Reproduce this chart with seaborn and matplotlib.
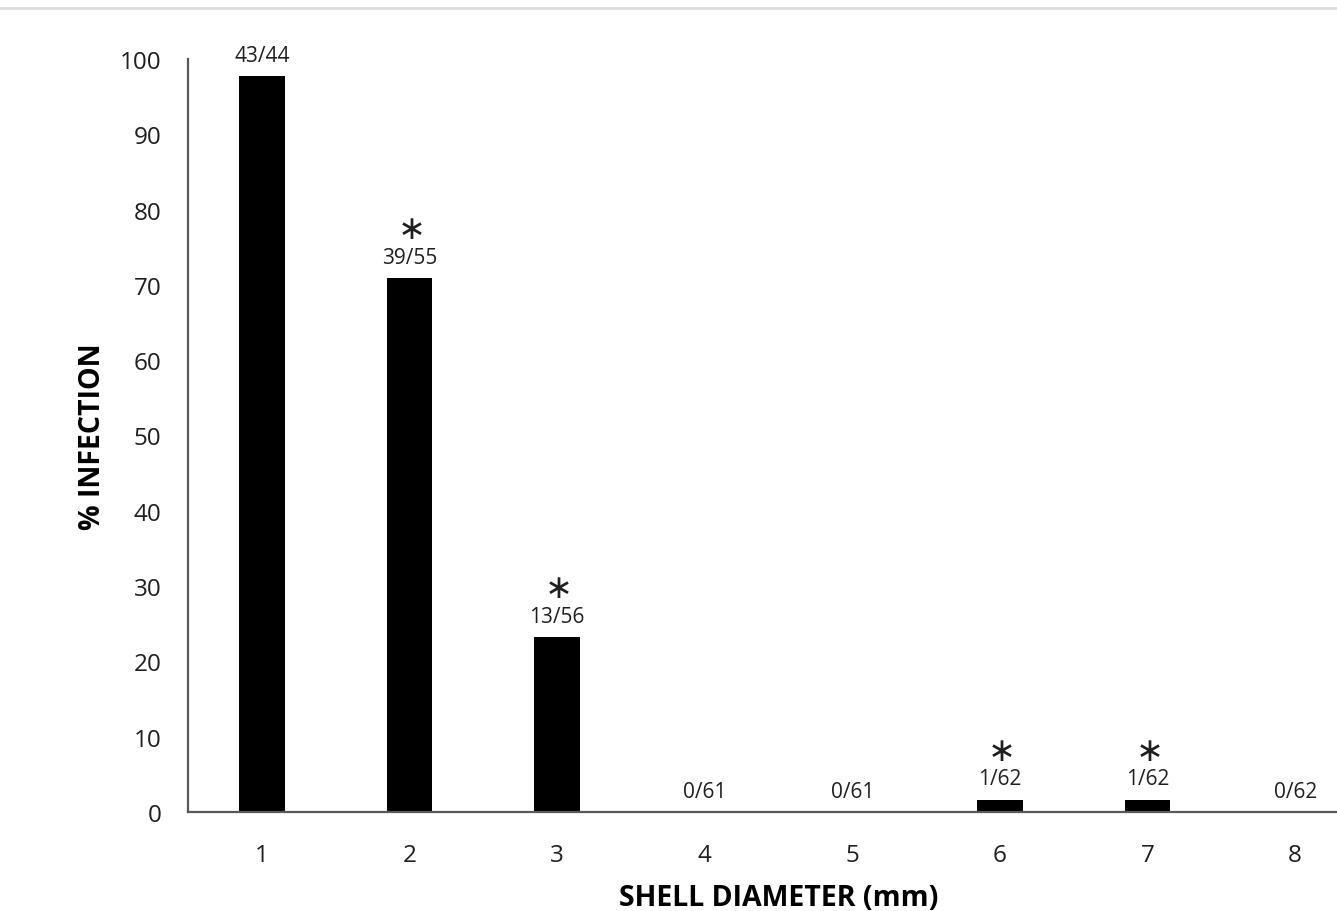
import matplotlib
matplotlib.use("Agg")
import matplotlib.pyplot as plt
from matplotlib.lines import Line2D
import seaborn as sns
import pandas as pd

# Shell diameter classes and infection outcome per class
diameters = ["1", "2", "3", "4", "5", "6", "7", "8"]
infected = [43, 39, 13, 0, 0, 1, 1, 0]
exposed = [44, 55, 56, 61, 61, 62, 62, 62]
significant = [False, True, True, False, False, True, True, False]

pct = [100.0 * i / n for i, n in zip(infected, exposed)]
df = pd.DataFrame({"diameter": diameters, "pct": pct})

sns.set_theme(style="white")
plt.rcParams["font.family"] = ["Open Sans", "DejaVu Sans"]
plt.rcParams["mathtext.fontset"] = "dejavusans"

fig = plt.figure(figsize=(13.37, 9.12), dpi=100)
ax = fig.add_axes([0.1406, 0.1086, 0.8833, 0.8257])

sns.barplot(data=df, x="diameter", y="pct", order=diameters, color="black",
            width=0.31, saturation=1, ax=ax, edgecolor="none")

ax.set_ylim(0, 100)
ax.set_xlim(-0.5, len(diameters) - 0.5)
ax.set_yticks(range(0, 101, 10))

for side in ["top", "right"]:
    ax.spines[side].set_visible(False)
for side in ["left", "bottom"]:
    ax.spines[side].set_color("#595959")
    ax.spines[side].set_linewidth(1.6)

ax.tick_params(axis="y", length=0, pad=19, labelsize=17.5, labelcolor="#1f1f1f")
ax.tick_params(axis="x", length=0, pad=22, labelsize=17.5, labelcolor="#1f1f1f")

ax.set_xlabel("SHELL DIAMETER (mm)", fontsize=20.5, fontweight="bold",
              color="black", labelpad=12)
ax.set_ylabel("% INFECTION", fontsize=20.5, fontweight="bold",
              color="black", labelpad=9)

# Fraction labels above each bar, with an asterisk for significant classes
for xi, (v, i, n, sig) in enumerate(zip(pct, infected, exposed, significant)):
    ax.annotate(f"{i}/{n}", (xi, v), xytext=(0, 15), textcoords="offset points",
                ha="center", va="center", fontsize=15, color="#1f1f1f")
    if sig:
        ax.annotate(r"$\ast$", (xi, v), xytext=(0, 35), textcoords="offset points",
                    ha="center", va="center", fontsize=24, color="#1f1f1f")

# Thin rule across the top of the figure
fig.add_artist(Line2D([0, 1], [1 - 9 / 912, 1 - 9 / 912],
                      transform=fig.transFigure, color="#dcdcdc", linewidth=2))

fig.savefig("out.png", dpi=100)
